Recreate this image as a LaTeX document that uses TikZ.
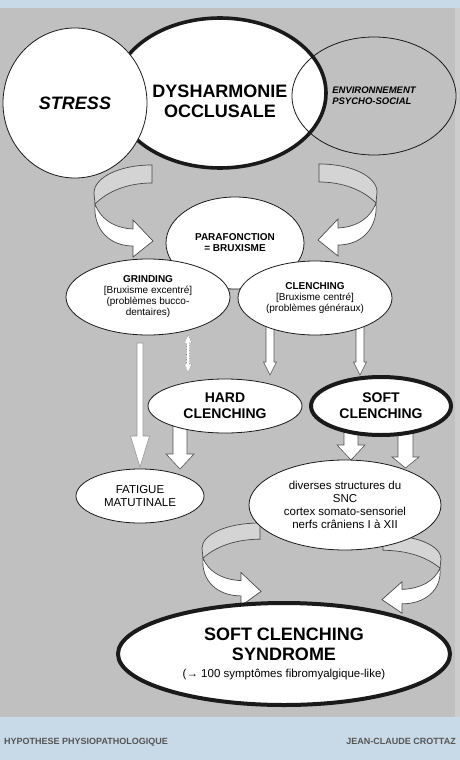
\documentclass[tikz,border=0pt]{standalone}
\usepackage{fontspec}
\setmainfont{Liberation Sans}
\usepackage{tikz}
\usetikzlibrary{shapes.geometric,calc,backgrounds}
\definecolor{ink}{HTML}{1A1A1A}
\definecolor{panel}{HTML}{C0C0C0}
\definecolor{band}{HTML}{C8D9E8}
\definecolor{ribbon}{HTML}{D4D4D4}
\definecolor{footer}{HTML}{555555}
\tikzset{
  ell/.style={ellipse,draw=ink,line width=0.8pt,fill=white,inner sep=0pt,align=center},
  heavy/.style={line width=3.6pt},
  blockarr/.style={draw=ink!75,fill=white,line width=0.6pt},
  back/.style={draw=ink!80,fill=ribbon,line width=0.7pt},
  front/.style={draw=ink!80,fill=white,line width=0.7pt},
  big/.style={font=\bfseries\fontsize{18}{20}\selectfont},
  mid/.style={font=\bfseries\fontsize{14}{16}\selectfont},
  small/.style={font=\fontsize{10}{11}\selectfont},
  body/.style={font=\fontsize{11.5}{13}\selectfont},
  foot/.style={font=\bfseries\fontsize{9}{10}\selectfont,text=footer,inner sep=0pt}
}
% vertical hollow arrow: [style]{start}{tip}{shaft half}{head half}{head length}
\newcommand{\blockarrow}[6][]{%
  \path[blockarr,#1] let \p1=#2, \p2=#3 in
    (\x1-#4pt,\y1) -- (\x1-#4pt,\y2+#6pt) -- (\x1-#5pt,\y2+#6pt) -- (\x1,\y2)
    -- (\x1+#5pt,\y2+#6pt) -- (\x1+#4pt,\y2+#6pt) -- (\x1+#4pt,\y1) -- cycle;}
% twisted ribbon arrow, tail top at the origin
\newcommand{\ribbonarrow}{%
  \path[back] (0,0) .. controls (-34,0) and (-58,13) .. (-58,28) -- (-57,39)
    .. controls (-44,26) and (-24,18) .. (0,18) -- cycle;
  \path[front] (-57,39) .. controls (-59,65) and (-42,81) .. (-19,81) -- (-19,92)
    -- (1,76) -- (-19,55) -- (-19,64) .. controls (-39,63) and (-52,53) .. (-57,39) -- cycle;}

\begin{document}
\begin{tikzpicture}[x=1pt,y=-1pt]
 \useasboundingbox (0,0) rectangle (460,760);
 % top group
 \node[ell,heavy,minimum width=212pt,minimum height=150pt] (dys) at (220,93) {};
 \node[big,align=center] (dystext) at (220,101) {DYSHARMONIE\\OCCLUSALE};
 \node[ell,minimum width=144pt,minimum height=150pt,font=\bfseries\itshape\fontsize{18}{20}\selectfont] (stress) at (75,103) {STRESS};
 \node[ell,fill=none,minimum width=164pt,minimum height=118pt,align=left,
   font=\bfseries\itshape\fontsize{9.5}{11}\selectfont] (env) at (374,96) {ENVIRONNEMENT\\PSYCHO-SOCIAL};
 % bruxism
 \node[ell,minimum width=138pt,minimum height=92pt,font=\bfseries\fontsize{10}{11}\selectfont] (para) at (235,243) {PARAFONCTION\\= BRUXISME};
 \node[ell,small,minimum width=164pt,minimum height=76pt] (grind) at (148,297) {\textbf{GRINDING}\\{[}Bruxisme excentré{]}\\(problèmes bucco-\\dentaires)};
 \node[ell,small,minimum width=154pt,minimum height=74pt] (clench) at (315,298) {\textbf{CLENCHING}\\{[}Bruxisme centré{]}\\(problèmes généraux)};
 \node[ell,mid,minimum width=154pt,minimum height=54pt] (hard) at (225,406) {HARD\\CLENCHING};
 \node[ell,mid,line width=4pt,minimum width=140pt,minimum height=58pt] (soft) at (381,406) {SOFT\\CLENCHING};
 \node[ell,body,minimum width=128pt,minimum height=54pt] (fat) at (140,496) {FATIGUE\\MATUTINALE};
 \node[ell,body,minimum width=192pt,minimum height=90pt] (snc) at (345,505) {diverses structures du\\SNC\\cortex somato-sensoriel\\nerfs crâniens I à XII};
 \node[ell,big,line width=4pt,minimum width=332pt,minimum height=102pt] (syn) at (284,654)
   {SOFT CLENCHING\\SYNDROME\\[-3pt]\mdseries\fontsize{11.5}{13}\selectfont(→ 100 symptômes fibromyalgique-like)};
 % footer
 \node[foot,anchor=base west] (foot1) at (4,744) {HYPOTHESE PHYSIOPATHOLOGIQUE};
 \node[foot,anchor=base east] (foot2) at (456,744) {JEAN-CLAUDE CROTTAZ};

 \begin{pgfonlayer}{background}
  \fill[band] (0,0) rectangle (460,760);
  \fill[panel] (0,8) rectangle (460,717);
  \fill[panel!80!white] (455,8) rectangle (460,717);
  % curved arrows
  \begin{scope}[shift={(152,165)}] \ribbonarrow \end{scope}
  \begin{scope}[shift={(319,164)},xscale=-1] \ribbonarrow \end{scope}
  \begin{scope}[shift={(260,523)},yscale=0.9] \ribbonarrow \end{scope}
  \begin{scope}[shift={(383,535)},xscale=-1,yscale=0.85] \ribbonarrow \end{scope}
  % straight arrows
  \blockarrow[draw=ink!45]{([xshift=-8pt,yshift=-46pt]grind.center)}{([yshift=29pt]fat.center)}{3}{9.5}{31}
  \path[blockarr,dotted,draw=ink!60] let \p1=([xshift=40pt,yshift=-38pt]grind.center),
      \p2=([xshift=-37pt,yshift=34pt]hard.center) in
    (\x1,\y1) -- (\x1+3.5pt,\y1-8pt) -- (\x1+1.5pt,\y1-8pt) -- (\x1+1.5pt,\y2+8pt)
    -- (\x1+3.5pt,\y2+8pt) -- (\x1,\y2) -- (\x1-3.5pt,\y2+8pt) -- (\x1-1.5pt,\y2+8pt)
    -- (\x1-1.5pt,\y1-8pt) -- (\x1-3.5pt,\y1-8pt) -- cycle;
  \blockarrow{([xshift=-45pt]hard.center)}{([xshift=40pt,yshift=27pt]fat.center)}{7}{14}{15}
  \blockarrow{([xshift=-45pt]clench.center)}{([xshift=45pt,yshift=31pt]hard.center)}{4}{6.5}{13}
  \blockarrow{([xshift=45pt]clench.center)}{([xshift=-21pt,yshift=31pt]soft.center)}{4}{6.5}{13}
  \blockarrow{([xshift=-30pt]soft.center)}{([xshift=6pt,yshift=45pt]snc.center)}{7}{14}{15}
  \blockarrow{([xshift=24.5pt]soft.center)}{([xshift=60.5pt,yshift=37pt]snc.center)}{7.5}{13.5}{11}
 \end{pgfonlayer}
\end{tikzpicture}
\end{document}
